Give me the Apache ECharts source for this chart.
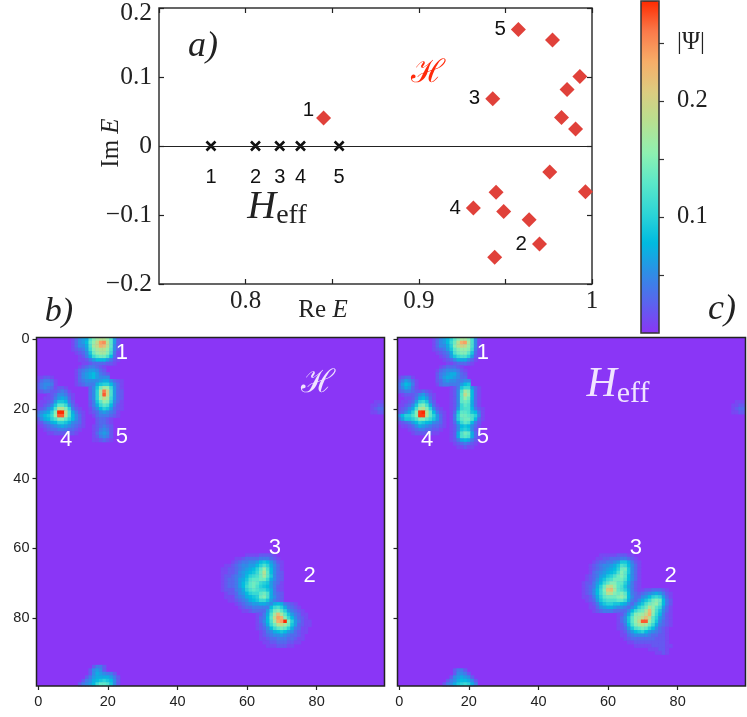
<!DOCTYPE html>
<html>
<head>
<meta charset="utf-8">
<style>html,body{margin:0;background:#fff}#chart{width:747px;height:717px}</style>
<script src="https://cdn.jsdelivr.net/npm/echarts@6/dist/echarts.min.js"></script>
</head>
<body>
<div id="chart"></div>
<script>
// panel a: spectra
const effRe = [0.780, 0.8057, 0.8197, 0.8317, 0.854];
const effIm = [0, 0, 0, 0, 0];
const effTag = ['1', '2', '3', '4', '5'];
const fullRe = [0.845, 0.9575, 0.9772, 0.993, 0.9856, 0.9427, 0.9824, 0.9905, 0.9756, 0.9962, 0.9446, 0.9315, 0.949, 0.9637, 0.9697, 0.9438];
const fullIm = [0.0404, 0.169, 0.1537, 0.1006, 0.082, 0.0685, 0.0413, 0.0247, -0.0376, -0.0662, -0.0671, -0.09, -0.0949, -0.1068, -0.1422, -0.1613];
const fullTag = ['1', '5', '', '', '', '3', '', '', '', '', '', '4', '', '', '2', ''];
const imTicks = [-0.2, -0.1, 0, 0.1, 0.2];
const barTicks = [0.05, 0.1, 0.15, 0.2, 0.25];

// numbers on the two maps: tag, column, row
const mapTags = [['1', 24, 4], ['5', 24, 28], ['4', 8, 29], ['3', 68, 60], ['2', 78, 68]];

// heat maps, rows of [row, first column, |psi| x 100 ...]
const fullTop = [
  [0, 10, 1, 3, 5, 6, 7, 12, 15, 17, 18, 18, 16, 13, 6, 2],
  [1, 10, 1, 3, 5, 6, 8, 13, 16, 19, 24, 25, 18, 13, 6, 2],
  [2, 10, 1, 3, 5, 5, 7, 12, 17, 19, 23, 22, 18, 13, 5, 2],
  [3, 10, 1, 2, 3, 4, 6, 11, 15, 17, 18, 18, 16, 12, 5, 2],
  [4, 10, 0, 1, 2, 3, 5, 9, 14, 16, 17, 17, 15, 11, 4, 1],
  [5, 10, 0, 0, 1, 2, 4, 7, 11, 13, 14, 14, 12, 8, 3, 1],
  [6, 10, 0, 0, 1, 1, 2, 4, 6, 8, 8, 8, 6, 4, 2, 1],
  [7, 10, 0, 0, 0, 1, 1, 2, 3, 3, 3, 3, 2, 2, 1],
  [8, 12, 1, 2, 3, 4, 4, 3, 2, 1],
  [9, 11, 1, 3, 4, 5, 6, 6, 5, 3, 2],
  [10, 11, 1, 3, 5, 6, 7, 8, 6, 4, 3, 2],
  [11, 11, 1, 3, 5, 6, 7, 8, 6, 5, 5, 5],
  [12, 11, 1, 3, 4, 5, 5, 5, 5, 6, 6, 6],
  [13, 11, 1, 2, 3, 4, 4, 4, 4, 5, 7, 9]
];
const fullFive = [
  [12, 15, 2, 3, 4, 6, 7, 7, 5, 3, 2, 1],
  [13, 15, 2, 4, 7, 9, 10, 10, 8, 5, 3, 1],
  [14, 15, 3, 5, 9, 14, 17, 16, 11, 6, 3, 1],
  [15, 15, 3, 5, 10, 17, 26, 20, 12, 6, 3, 2],
  [16, 15, 3, 5, 10, 17, 27, 20, 12, 6, 3, 2],
  [17, 15, 3, 5, 10, 16, 19, 17, 11, 6, 3, 2],
  [18, 15, 2, 4, 9, 13, 16, 15, 10, 5, 3, 1],
  [19, 15, 2, 4, 7, 11, 13, 12, 8, 4, 2, 1],
  [20, 15, 1, 3, 5, 8, 10, 9, 6, 3, 2, 1],
  [21, 15, 1, 2, 3, 5, 6, 5, 4, 3, 1],
  [22, 15, 0, 1, 3, 4, 4, 4, 3, 2, 1],
  [23, 17, 2, 3, 3, 2, 1],
  [24, 17, 2, 3, 3, 2, 1],
  [25, 16, 1, 2, 3, 4, 3, 2],
  [26, 16, 1, 2, 4, 5, 4, 2],
  [27, 16, 1, 3, 5, 6, 5, 2],
  [28, 16, 1, 2, 4, 5, 4, 2],
  [29, 16, 1, 1, 2, 3, 2, 1]
];
const fullFour = [
  [11, 0, 1, 1, 2, 2, 1],
  [12, 0, 1, 3, 4, 4, 3, 1],
  [13, 0, 2, 4, 5, 5, 4, 1],
  [14, 0, 2, 4, 5, 4, 3, 1, 2, 2, 1],
  [15, 0, 1, 2, 3, 3, 2, 2, 3, 4, 3, 1],
  [16, 0, 0, 0, 0, 1, 2, 3, 5, 5, 4, 2, 1],
  [17, 0, 0, 0, 1, 1, 2, 4, 6, 7, 6, 3, 1],
  [18, 0, 0, 1, 1, 2, 3, 6, 9, 9, 8, 4, 2],
  [19, 0, 1, 1, 2, 3, 5, 9, 13, 13, 11, 6, 3, 1],
  [20, 0, 1, 2, 3, 5, 7, 12, 18, 18, 15, 10, 4, 2, 1],
  [21, 0, 3, 5, 6, 7, 10, 15, 29, 29, 19, 12, 7, 4, 2, 1],
  [22, 0, 4, 6, 8, 9, 11, 16, 27, 27, 18, 12, 8, 5, 3, 1],
  [23, 0, 2, 5, 7, 8, 10, 12, 15, 15, 13, 10, 8, 5, 3, 1],
  [24, 0, 1, 2, 4, 5, 7, 8, 10, 10, 9, 7, 5, 4, 3, 1],
  [25, 0, 0, 1, 2, 3, 4, 5, 6, 7, 6, 5, 4, 3, 2, 1],
  [26, 0, 0, 0, 1, 2, 3, 3, 4, 4, 4, 3, 3, 2, 1],
  [27, 0, 0, 0, 0, 1, 1, 2, 2, 2, 2, 2, 2, 1]
];
const fullThree = [
  [62, 60, 1, 1, 1, 1, 2, 2, 2, 2, 1],
  [63, 56, 0, 1, 1, 2, 3, 3, 3, 3, 4, 4, 4, 3, 2, 1],
  [64, 56, 1, 2, 3, 4, 4, 5, 5, 6, 8, 9, 8, 6, 4, 2, 1],
  [65, 54, 1, 1, 2, 3, 4, 5, 5, 6, 6, 8, 10, 12, 10, 7, 5, 3, 1],
  [66, 53, 1, 1, 2, 2, 3, 4, 5, 6, 7, 8, 10, 13, 16, 12, 8, 5, 3, 1],
  [67, 53, 1, 1, 2, 2, 3, 5, 6, 7, 8, 9, 11, 14, 18, 13, 8, 5, 3, 2],
  [68, 53, 1, 2, 2, 3, 4, 5, 6, 8, 10, 11, 12, 14, 17, 13, 9, 5, 3, 2],
  [69, 53, 1, 2, 3, 3, 4, 6, 7, 9, 12, 13, 13, 14, 14, 11, 7, 5, 3, 2],
  [70, 53, 1, 2, 3, 3, 4, 6, 8, 10, 13, 14, 13, 11, 10, 9, 6, 4, 3, 1],
  [71, 53, 1, 2, 3, 3, 4, 6, 8, 11, 13, 14, 12, 10, 9, 8, 6, 4, 2, 1],
  [72, 53, 1, 2, 2, 2, 4, 5, 7, 10, 12, 13, 12, 11, 11, 9, 7, 4, 2, 1],
  [73, 54, 1, 2, 2, 3, 5, 6, 8, 10, 11, 11, 13, 14, 12, 7, 4, 3, 2],
  [74, 54, 1, 1, 1, 3, 4, 5, 7, 8, 9, 10, 14, 15, 12, 7, 5, 3, 2],
  [75, 55, 1, 1, 2, 3, 4, 5, 7, 8, 9, 11, 11, 9, 6, 4, 3, 2],
  [76, 56, 0, 1, 2, 3, 4, 5, 6, 6, 7, 7, 6, 5, 4, 3, 3],
  [77, 56, 0, 0, 1, 2, 3, 3, 4, 4, 4, 4, 4, 4, 3, 3, 4],
  [78, 56, 0, 0, 0, 1, 1, 2, 3, 3, 3, 3, 3, 3, 3, 4, 5]
];
const fullTwo = [
  [76, 62, 0, 0, 0, 1, 3, 5, 7, 8, 7, 4, 3, 2, 1],
  [77, 62, 0, 0, 1, 2, 4, 8, 11, 12, 10, 7, 4, 3, 2, 1],
  [78, 62, 0, 1, 2, 3, 6, 10, 14, 15, 13, 10, 6, 4, 3, 2, 1],
  [79, 62, 0, 1, 2, 4, 7, 12, 17, 22, 17, 13, 9, 6, 4, 3, 1, 1],
  [80, 62, 0, 1, 3, 4, 8, 13, 19, 24, 23, 15, 11, 8, 5, 3, 2, 1],
  [81, 62, 0, 1, 3, 5, 8, 12, 17, 23, 24, 29, 15, 10, 6, 4, 2, 1, 1],
  [82, 62, 0, 1, 2, 4, 7, 11, 14, 18, 19, 17, 14, 9, 6, 3, 2, 1, 1],
  [83, 62, 0, 1, 2, 3, 5, 8, 11, 13, 14, 13, 10, 7, 4, 3, 1, 1],
  [84, 62, 0, 0, 1, 2, 4, 5, 7, 8, 9, 8, 6, 5, 3, 2, 1, 1],
  [85, 62, 0, 0, 1, 2, 3, 4, 5, 5, 6, 5, 4, 3, 3, 2, 1],
  [86, 62, 0, 0, 1, 1, 2, 3, 3, 4, 4, 4, 3, 3, 2, 1, 1],
  [87, 62, 0, 0, 0, 1, 1, 2, 2, 3, 3, 3, 2, 2, 1, 1],
  [88, 62, 0, 0, 0, 0, 1, 1, 1, 2, 2, 2, 1, 1]
];
const fullEdge = [
  [94, 16, 2, 4, 4, 2],
  [95, 15, 2, 5, 6, 5, 2],
  [96, 15, 2, 5, 7, 6, 5, 4, 4, 2],
  [97, 14, 2, 4, 6, 7, 7, 7, 7, 6, 4, 2],
  [98, 13, 2, 4, 5, 7, 8, 9, 10, 9, 8, 5, 2],
  [99, 12, 2, 4, 5, 6, 8, 11, 13, 13, 12, 9, 5, 2],
  [18, 97, 1, 1, 1],
  [19, 96, 1, 1, 2, 2],
  [20, 96, 1, 2, 3, 3],
  [21, 96, 1, 1, 2, 2]
];

const effTop = [
  [0, 10, 1, 3, 5, 6, 8, 10, 13, 15, 17, 17, 15, 12, 5, 1],
  [1, 10, 1, 3, 5, 6, 8, 11, 14, 18, 23, 24, 17, 12, 5, 1],
  [2, 10, 1, 3, 5, 5, 7, 10, 15, 18, 20, 19, 16, 12, 5, 1],
  [3, 10, 1, 2, 3, 4, 6, 9, 13, 15, 16, 16, 15, 11, 4, 1],
  [4, 10, 0, 1, 2, 3, 4, 7, 12, 14, 15, 15, 13, 9, 3, 1],
  [5, 10, 0, 0, 1, 2, 3, 6, 9, 11, 12, 12, 10, 6, 2, 1],
  [6, 10, 0, 0, 0, 1, 2, 3, 5, 7, 7, 7, 5, 3, 1],
  [7, 10, 0, 0, 0, 0, 1, 1, 2, 3, 3, 3, 2, 1],
  [8, 12, 1, 2, 3, 3, 3, 2, 1],
  [9, 11, 1, 3, 4, 5, 5, 5, 4, 2, 1],
  [10, 11, 2, 4, 5, 6, 7, 7, 5, 3, 2],
  [11, 11, 2, 4, 6, 7, 7, 6, 5, 3, 3],
  [12, 11, 2, 3, 5, 6, 5, 5, 4, 4, 5, 5],
  [13, 11, 1, 3, 4, 4, 4, 4, 4, 6, 8, 9]
];
const effFive = [
  [14, 15, 1, 2, 4, 9, 11, 11, 6, 3, 1],
  [15, 15, 1, 2, 5, 12, 17, 15, 8, 3, 1],
  [16, 15, 1, 2, 5, 13, 19, 16, 8, 3, 1],
  [17, 15, 1, 2, 5, 13, 16, 14, 8, 3, 1],
  [18, 15, 1, 2, 5, 13, 14, 13, 7, 3, 1],
  [19, 15, 1, 2, 5, 11, 13, 12, 7, 3, 1],
  [20, 15, 1, 2, 6, 11, 12, 12, 8, 4, 2, 1],
  [21, 15, 1, 3, 9, 13, 13, 12, 9, 8, 4, 1],
  [22, 15, 1, 4, 10, 14, 14, 13, 12, 10, 5, 1],
  [23, 15, 1, 4, 10, 13, 14, 14, 12, 8, 3, 1],
  [24, 15, 1, 3, 7, 11, 13, 12, 8, 4, 2],
  [25, 15, 1, 2, 5, 8, 9, 8, 5, 3, 1],
  [26, 15, 1, 2, 5, 9, 10, 9, 5, 2, 1],
  [27, 15, 1, 2, 7, 12, 14, 13, 7, 3, 1],
  [28, 15, 1, 2, 7, 12, 13, 12, 7, 3, 1],
  [29, 15, 1, 2, 4, 7, 8, 7, 4, 2],
  [30, 15, 0, 1, 2, 3, 4, 3, 2, 1],
  [31, 15, 0, 0, 1, 1, 2, 1, 1]
];
const effFour = [
  [11, 0, 1, 2, 3, 3, 1],
  [12, 0, 2, 4, 6, 5, 3, 1],
  [13, 0, 3, 6, 8, 7, 4, 1],
  [14, 0, 3, 5, 7, 6, 3, 1],
  [15, 0, 2, 3, 4, 4, 3, 2, 2, 3, 2, 1],
  [16, 0, 0, 1, 2, 2, 2, 3, 5, 6, 4, 2, 1],
  [17, 0, 0, 0, 1, 1, 2, 4, 7, 8, 6, 3, 1],
  [18, 0, 0, 1, 1, 2, 3, 6, 10, 11, 9, 4, 2],
  [19, 0, 1, 1, 2, 3, 5, 9, 14, 15, 12, 7, 3, 1],
  [20, 0, 1, 2, 3, 5, 7, 12, 17, 18, 15, 10, 5, 2, 1],
  [21, 0, 2, 3, 5, 7, 10, 15, 28, 29, 18, 13, 8, 4, 2, 1],
  [22, 0, 5, 8, 10, 10, 12, 15, 28, 28, 18, 13, 10, 6, 3, 1],
  [23, 0, 3, 6, 9, 9, 10, 12, 15, 15, 13, 11, 9, 6, 3, 1],
  [24, 0, 1, 2, 3, 4, 6, 8, 10, 9, 8, 7, 5, 4, 3, 1],
  [25, 0, 0, 1, 1, 2, 3, 5, 7, 6, 5, 4, 3, 3, 2, 1],
  [26, 0, 0, 0, 0, 1, 2, 3, 4, 4, 3, 3, 2, 2, 1],
  [27, 0, 0, 0, 0, 0, 1, 2, 2, 2, 2, 2, 1, 1]
];
const effThree = [
  [62, 58, 1, 1, 1, 1, 1, 2, 2, 2, 1, 1],
  [63, 55, 0, 0, 1, 1, 2, 2, 3, 3, 3, 4, 4, 3, 2, 1],
  [64, 55, 0, 1, 2, 3, 3, 4, 4, 5, 6, 9, 9, 7, 4, 2, 1],
  [65, 55, 1, 2, 3, 4, 5, 5, 6, 7, 9, 12, 11, 8, 5, 3, 1],
  [66, 55, 1, 2, 3, 4, 5, 6, 7, 8, 10, 14, 14, 9, 5, 3, 1],
  [67, 55, 1, 3, 4, 5, 6, 7, 8, 9, 12, 15, 13, 9, 5, 3, 1],
  [68, 54, 1, 2, 3, 4, 6, 7, 9, 10, 12, 14, 15, 13, 8, 5, 3, 1],
  [69, 54, 1, 2, 3, 5, 7, 9, 11, 12, 14, 14, 14, 12, 8, 5, 3, 1],
  [70, 53, 1, 2, 2, 4, 6, 8, 11, 13, 15, 15, 13, 13, 10, 7, 4, 2, 1],
  [71, 53, 1, 2, 3, 4, 7, 10, 14, 18, 19, 16, 13, 12, 9, 6, 4, 2, 1],
  [72, 53, 1, 2, 3, 5, 8, 11, 15, 21, 22, 17, 13, 12, 10, 7, 4, 2, 1],
  [73, 53, 1, 2, 3, 5, 8, 11, 14, 18, 18, 15, 14, 15, 13, 8, 4, 3, 1],
  [74, 53, 1, 1, 2, 4, 7, 10, 13, 14, 14, 14, 15, 16, 14, 8, 5, 3, 1],
  [75, 54, 1, 2, 3, 6, 9, 11, 12, 12, 12, 13, 13, 11, 7, 4, 3, 1],
  [76, 55, 1, 2, 4, 7, 9, 10, 10, 9, 9, 8, 7, 5, 3, 2, 1],
  [77, 55, 1, 1, 3, 5, 6, 7, 7, 6, 5, 5, 4, 3, 3, 2, 1],
  [78, 55, 0, 1, 2, 3, 4, 4, 4, 3, 3, 3, 3, 2, 2, 2, 2]
];
const effTwo = [
  [72, 69, 1, 1, 2, 2, 3, 3, 3, 2, 1],
  [73, 68, 1, 2, 3, 4, 5, 6, 7, 6, 4, 2, 1],
  [74, 67, 1, 2, 3, 5, 6, 8, 10, 11, 10, 6, 3, 1],
  [75, 66, 1, 2, 3, 5, 7, 9, 11, 14, 15, 14, 8, 4, 2],
  [76, 65, 1, 2, 3, 5, 7, 9, 12, 14, 15, 16, 13, 8, 4, 2],
  [77, 64, 1, 2, 3, 5, 7, 10, 12, 14, 18, 16, 13, 11, 6, 3, 1],
  [78, 63, 1, 2, 3, 5, 8, 11, 13, 14, 17, 22, 16, 12, 9, 5, 3, 1],
  [79, 63, 1, 2, 4, 7, 11, 15, 16, 17, 19, 23, 15, 11, 8, 4, 2, 1],
  [80, 63, 1, 3, 5, 9, 13, 16, 17, 19, 22, 19, 13, 10, 6, 4, 2, 1],
  [81, 63, 1, 3, 5, 9, 13, 16, 19, 27, 27, 16, 13, 9, 5, 3, 2, 1],
  [82, 63, 1, 2, 4, 8, 12, 15, 17, 18, 17, 14, 11, 7, 4, 3, 2, 1],
  [83, 63, 1, 2, 3, 6, 9, 12, 13, 14, 13, 10, 8, 5, 3, 2, 1],
  [84, 64, 1, 2, 4, 6, 8, 9, 10, 8, 6, 5, 4, 3, 2, 1],
  [85, 64, 1, 1, 3, 4, 5, 5, 5, 5, 4, 3, 3, 2, 2, 1],
  [86, 65, 1, 2, 3, 3, 3, 3, 3, 3, 3, 2, 2, 2, 1],
  [87, 66, 1, 1, 2, 2, 2, 2, 2, 2, 2, 2, 2, 1],
  [88, 68, 1, 1, 1, 1, 1, 2, 2, 2, 2, 1, 1],
  [89, 72, 1, 1, 1, 2, 2, 1],
  [90, 74, 1, 1, 2, 1]
];
const effEdge = [
  [95, 16, 2, 4, 4, 2],
  [96, 16, 2, 5, 5, 4, 2],
  [97, 15, 2, 5, 6, 7, 6, 5, 2],
  [98, 14, 2, 4, 5, 7, 8, 8, 7, 5, 2],
  [99, 13, 2, 4, 5, 7, 9, 10, 11, 10, 7, 4],
  [18, 97, 1, 1, 1],
  [19, 96, 1, 1, 2, 2],
  [20, 96, 1, 2, 3, 3],
  [21, 96, 1, 1, 2, 2]
];

const rampColors = ['#8a36f6', '#5a64ee', '#2e8ee6', '#00bbe0', '#2fd6d6', '#5ce8c8', '#90f0b0', '#b8e090', '#dccc80', '#f7ad68', '#fa7a4a', '#ff2a00'];
const barMax = 0.286;

const serif = '"Liberation Serif", serif';
const sans = '"Liberation Sans", sans-serif';
const ink = '#222';

// overlapping blobs keep the larger value
const toCells = (...blobs) => {
  const cells = new Map();
  blobs.forEach(blob => blob.forEach(([row, col, ...vals]) => {
    vals.forEach((v, i) => {
      if (!v) return;
      const key = row + '_' + (col + i);
      cells.set(key, [col + i, row, Math.max(cells.has(key) ? cells.get(key)[2] : 0, v / 100)]);
    });
  }));
  return [...cells.values()];
};

const cols = Array.from({ length: 100 }, (_, i) => i);
const every20 = i => i % 20 === 0;

const mapX = (gridIndex) => ({
  type: 'category', gridIndex, data: cols, boundaryGap: true,
  axisLine: { show: false },
  axisTick: { show: true, interval: every20, alignWithLabel: true, length: 4, lineStyle: { color: ink, width: 1.2 } },
  axisLabel: { show: true, interval: every20, margin: 8, color: '#222', fontFamily: sans, fontSize: 14.5 },
  splitLine: { show: false }
});
const mapY = (gridIndex, showLabel) => ({
  type: 'category', gridIndex, data: cols, inverse: true, boundaryGap: true,
  axisLine: { show: false },
  axisTick: { show: true, interval: every20, alignWithLabel: true, length: 4, lineStyle: { color: ink, width: 1.2 } },
  axisLabel: { show: showLabel, interval: every20, margin: 7, color: '#222', fontFamily: sans, fontSize: 14.5 },
  splitLine: { show: false }
});
const tagSeries = (xAxisIndex, yAxisIndex) => ({
  type: 'scatter', xAxisIndex, yAxisIndex, data: mapTags.map(t => [t[1], t[2], t[0]]),
  symbolSize: 0, silent: true, z: 6,
  itemStyle: { opacity: 1 },
  label: { show: true, position: 'inside', formatter: p => p.data[2], color: '#fff', fontFamily: sans, fontSize: 22 }
});
const heatSeries = (xAxisIndex, yAxisIndex, data) => ({
  type: 'heatmap', xAxisIndex, yAxisIndex, data, progressive: 0, silent: true, z: 2,
  itemStyle: { borderWidth: 0 }, emphasis: { disabled: true }
});
const mathText = (x, y, text, fontSize, fill, extra) => ({
  type: 'text', x, y, z: 20, silent: true,
  style: Object.assign({ text, fontFamily: serif, fontSize, fill, align: 'center', verticalAlign: 'middle' }, extra || {})
});
const effRich = (fill, big, small) => ({
  rich: {
    h: { fontFamily: serif, fontStyle: 'italic', fontSize: big, fill, color: fill },
    s: { fontFamily: serif, fontSize: small, fill, color: fill, padding: [18, 0, 0, 0] }
  }
});
const mathRich = {
  r: { fontFamily: serif, fontSize: 25, fill: '#222', color: '#222' },
  e: { fontFamily: serif, fontStyle: 'italic', fontSize: 25, fill: '#222', color: '#222' }
};

const chart = echarts.init(document.getElementById('chart'), null, { renderer: 'canvas' });
chart.setOption({
  animation: false,
  backgroundColor: '#fff',
  grid: [
    { left: 159, top: 5, width: 433, height: 279, show: true, borderColor: '#333', borderWidth: 1.5, backgroundColor: '#fff' },
    { left: 36.5, top: 337.5, width: 348, height: 348.5, show: true, borderWidth: 0, backgroundColor: '#8a36f6' },
    { left: 397.5, top: 337.5, width: 348, height: 348.5, show: true, borderWidth: 0, backgroundColor: '#8a36f6' },
    { left: 641, top: 1, width: 18, height: 332, show: true, borderColor: '#333', borderWidth: 1.5, backgroundColor: 'transparent', z: 10 },
    { left: 36.5, top: 337.5, width: 348, height: 348.5, show: true, borderColor: ink, borderWidth: 1.5, backgroundColor: 'transparent', z: 10 },
    { left: 397.5, top: 337.5, width: 348, height: 348.5, show: true, borderColor: ink, borderWidth: 1.5, backgroundColor: 'transparent', z: 10 }
  ],
  xAxis: [
    {
      type: 'value', gridIndex: 0, min: 0.75, max: 1, interval: 0.05, position: 'bottom',
      axisLine: { show: false, onZero: false }, splitLine: { show: false },
      axisTick: { show: true, inside: true, length: 5, lineStyle: { color: ink, width: 1.2 } },
      axisLabel: {
        margin: 5, color: '#222', fontFamily: serif, fontSize: 25,
        showMinLabel: false,
        formatter: v => (Math.round(v * 100) % 10 === 0 ? String(Math.round(v * 10) / 10) : '')
      }
    },
    {
      type: 'value', gridIndex: 0, min: 0.75, max: 1, interval: 0.05, position: 'top',
      axisLine: { show: false, onZero: false }, splitLine: { show: false }, axisLabel: { show: false },
      axisTick: { show: true, inside: true, length: 5, lineStyle: { color: ink, width: 1.2 } }
    },
    mapX(1),
    mapX(2),
    { type: 'value', gridIndex: 3, min: 0, max: 1, show: false }
  ],
  yAxis: [
    {
      type: 'value', gridIndex: 0, min: -0.2, max: 0.2, interval: 0.1, position: 'left',
      axisLine: { show: false, onZero: false }, splitLine: { show: false },
      axisTick: { show: true, inside: true, length: 5, lineStyle: { color: ink, width: 1.2 } },
      axisLabel: {
        margin: 7, color: '#222', fontFamily: serif, fontSize: 25.5,
        formatter: v => {
          const t = imTicks.find(k => Math.abs(k - v) < 1e-6);
          if (t === 0) return '0';
          const s = (t < 0 ? '\u2212' : '') + Math.abs(t).toFixed(1);
          return t === 0.2 ? '{top|' + s + '}' : s;
        },
        rich: { top: { fontFamily: serif, fontSize: 25.5, color: '#222', padding: [10, 0, 0, 0] } }
      }
    },
    {
      type: 'value', gridIndex: 0, min: -0.2, max: 0.2, interval: 0.1, position: 'right',
      axisLine: { show: false, onZero: false }, splitLine: { show: false }, axisLabel: { show: false },
      axisTick: { show: true, inside: true, length: 5, lineStyle: { color: ink, width: 1.2 } }
    },
    mapY(1, true),
    mapY(2, false),
    {
      type: 'value', gridIndex: 3, min: 0, max: barMax, position: 'right',
      axisLine: { show: false, onZero: false }, splitLine: { show: false },
      axisTick: { show: true, customValues: barTicks, length: 5, lineStyle: { color: '#333', width: 1.2 } },
      axisLabel: {
        show: true, customValues: [0.1, 0.2, 0.25], margin: 18, color: '#222', fontFamily: serif, fontSize: 24.5,
        formatter: v => (v === 0.25 ? '|\u03A8|' : v.toFixed(1))
      }
    }
  ],
  visualMap: {
    type: 'continuous', seriesIndex: [2, 3], dimension: 2, min: 0, max: barMax,
    left: 641, top: 1, itemWidth: 18, itemHeight: 332, padding: 0,
    calculable: false, realtime: false, showLabel: false, text: null,
    inRange: { color: rampColors },
    textStyle: { fontSize: 0 }
  },
  series: [
    {
      type: 'scatter', xAxisIndex: 0, yAxisIndex: 0, z: 4, silent: true,
      data: effRe.map((re, i) => ({ value: [re, effIm[i]], tag: effTag[i] })),
      symbol: 'path://M0 0L10 10M10 0L0 10', symbolSize: 9,
      itemStyle: { color: 'none', borderColor: '#111', borderWidth: 2.6, opacity: 1 },
      label: { show: true, position: 'bottom', distance: 14, formatter: p => p.data.tag, color: '#111', fontFamily: sans, fontSize: 20 },
      markLine: {
        silent: true, symbol: 'none', label: { show: false },
        lineStyle: { type: 'solid', color: ink, width: 1.1 },
        data: [{ yAxis: 0 }]
      }
    },
    {
      type: 'scatter', xAxisIndex: 0, yAxisIndex: 0, z: 5, silent: true,
      data: fullRe.map((re, i) => ({
        value: [re, fullIm[i]], tag: fullTag[i],
        label: fullTag[i] === '1' ? { offset: [3, -8] } : undefined
      })),
      symbol: 'diamond', symbolSize: 15,
      itemStyle: { color: '#e0413a', opacity: 1 },
      label: { show: true, position: 'left', distance: 5, formatter: p => p.data.tag, color: '#111', fontFamily: sans, fontSize: 20.5 }
    },
    heatSeries(2, 2, toCells(fullTop, fullFive, fullFour, fullThree, fullTwo, fullEdge)),
    heatSeries(3, 3, toCells(effTop, effFive, effFour, effThree, effTwo, effEdge)),
    tagSeries(2, 2),
    tagSeries(3, 3)
  ],
  graphic: [
    mathText(203, 47, 'a)', 36, '#222', { fontStyle: 'italic' }),
    mathText(59, 312, 'b)', 34, '#222', { fontStyle: 'italic' }),
    mathText(722, 310, 'c)', 36, '#222', { fontStyle: 'italic' }),
    mathText(428, 74, '\u210B', 32, '#ff2a0a', { fontFamily: '"DejaVu Serif", serif' }),
    mathText(318, 384, '\u210B', 32, '#f0e4ff', { fontFamily: '"DejaVu Serif", serif' }),
    mathText(277, 207, '{h|H}{s|eff}', 40, '#222', effRich('#222', 40, 28)),
    mathText(618, 385, '{h|H}{s|eff}', 42, '#f0e4ff', effRich('#f0e4ff', 42, 30)),
    mathText(323, 310, '{r|Re}{e| E}', 25, '#222', { rich: mathRich }),
    {
      type: 'text', x: 111, y: 143, rotation: Math.PI / 2, z: 20, silent: true,
      style: { text: '{r|Im}{e| E}', rich: mathRich, align: 'center', verticalAlign: 'middle' }
    }
  ]
});
</script>
</body>
</html>
